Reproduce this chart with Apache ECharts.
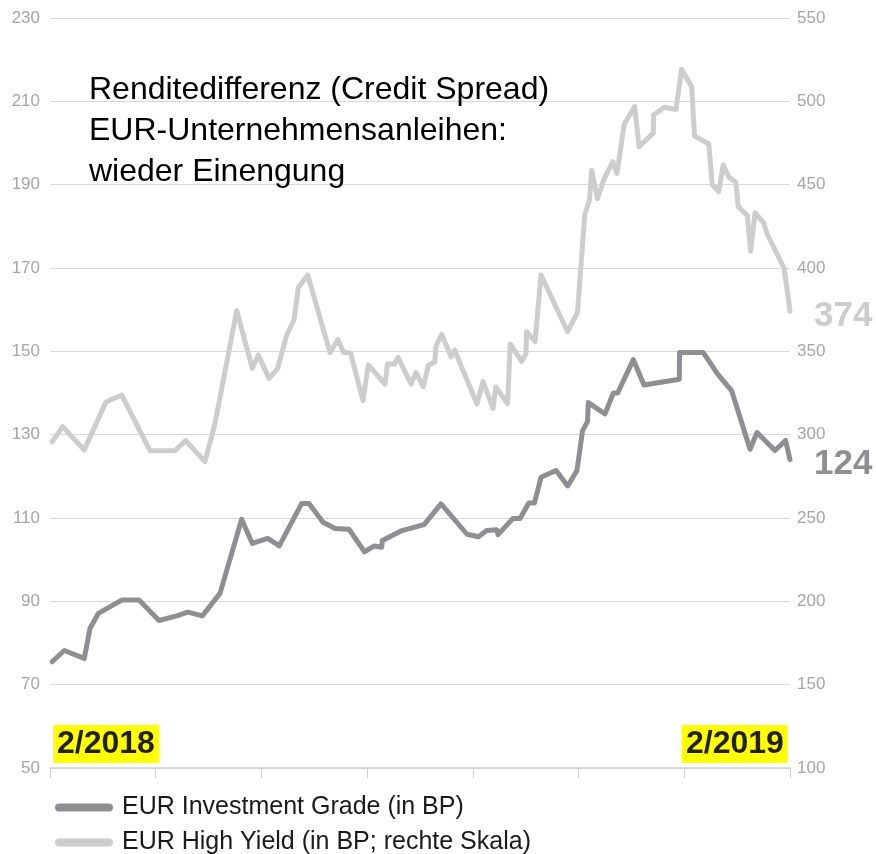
<!DOCTYPE html>
<html>
<head>
<meta charset="utf-8">
<script src="https://cdn.jsdelivr.net/npm/echarts@6/dist/echarts.min.js"></script>
<style>
html, body { margin: 0; padding: 0; background: #fff; }
#chart { width: 876px; height: 854px; }
</style>
</head>
<body>
<div id="chart"></div>
<script>
// x = Wochen seit 2/2018 (0..70)
var igWeeks = [0.2, 1.35, 3.24, 3.78, 4.57, 6.78, 8.42, 10.31, 11.99, 13.03, 14.41, 16.08, 18.13, 19.14, 20.59, 21.69,
    23.81, 24.5, 25.83, 26.96, 28.28, 29.75, 30.68, 31.38, 31.44, 33.2, 35.38, 36.99, 39.45, 40.52, 41.31, 42.26,
    42.38, 43.8, 44.46, 45.29, 45.83, 46.45, 47.87, 48.97, 49.85, 50.37, 50.85, 50.92, 52.5, 53.29, 53.7, 55.18,
    56.19, 59.53, 59.55, 61.8, 63.14, 64.49, 66.22, 66.88, 68.58, 69.58, 70];
var igValues = [75.5, 78.2, 76.3, 83.5, 87.1, 90.3, 90.3, 85.4, 86.5, 87.4, 86.5, 91.9, 109.7, 103.9, 105.1, 103.3,
    113.5, 113.5, 109, 107.5, 107.3, 101.9, 103.3, 103, 104.6, 106.9, 108.4, 113.4, 106.1, 105.5, 107, 107.2,
    106, 109.9, 109.9, 113.6, 113.6, 119.8, 121.4, 117.7, 121.4, 130.9, 133.2, 137.7, 135, 140, 140, 148,
    141.9, 143.3, 149.7, 149.7, 144.6, 140.5, 126.5, 130.5, 126.2, 128.6, 124];

var hyWeeks = [0.2, 1.2, 3.24, 5.27, 6.78, 9.46, 11.82, 12.84, 14.66, 15.61, 17.66, 19.14, 19.7, 20.72, 21.54, 22.39,
    23.08, 23.49, 24.38, 26.49, 27.24, 27.76, 28.43, 29.61, 30.11, 31.69, 31.93, 32.59, 32.92, 34.15, 34.62, 35.31,
    35.79, 36.4, 36.5, 37.05, 37.95, 38.27, 40.39, 40.96, 41.91, 42.17, 43.28, 43.54, 44.62, 45.03, 45.08, 45.88,
    46.45, 48.95, 49.9, 50.58, 51.03, 51.24, 51.79, 52.41, 53.24, 53.64, 54.32, 55.31, 55.72, 57.07, 57.1, 58.11,
    59.22, 59.74, 60.7, 60.97, 62.32, 62.64, 63.25, 63.69, 64.21, 64.88, 65.11, 65.96, 66.28, 66.69, 67.54, 67.8,
    69.45, 70];
var hyValues = [295.8, 304.8, 290.8, 319.4, 323.8, 290.4, 290.4, 296.4, 283.8, 306.8, 374.4, 339.8, 347.8, 333.8, 339.8, 359.8,
    368.8, 388.3, 395.8, 349.2, 357.1, 349.4, 349, 320.4, 341.8, 330.4, 342.4, 342.4, 346.4, 330.4, 337.2, 328.8,
    341.6, 343.6, 352.8, 360.1, 346.6, 350.8, 318.4, 331.8, 315.8, 328.6, 318.6, 354.4, 344, 348.8, 361.8, 355.8,
    395.8, 361.8, 373.3, 431.8, 440.8, 458.5, 441.6, 453.4, 463.8, 456.8, 486.4, 496.8, 472.8, 481, 491.8, 496.4,
    495.1, 519.2, 508.8, 479.2, 474.4, 450.1, 445.8, 461.8, 454.6, 451.5, 436.8, 431.5, 410.1, 433.2, 426.8, 421,
    399.8, 374];

var seriesNames = ['EUR Investment Grade (in BP)', 'EUR High Yield (in BP; rechte Skala)'];
var seriesColors = ['#8f8f93', '#cdcdcf'];
var titleText = 'Renditedifferenz (Credit Spread)\nEUR-Unternehmensanleihen:\nwieder Einengung';
var startLabel = '2/2018';
var endLabel = '2/2019';

function pairs(xs, ys) {
    var res = [];
    for (var i = 0; i < xs.length; i++) {
        res.push([xs[i], ys[i]]);
    }
    return res;
}

var font = '"Liberation Sans", Arial, Helvetica, sans-serif';
var pill = 'path://M4,0 L54,0 A4,4 0 0 1 54,8 L4,8 A4,4 0 0 1 4,0 Z';

var dateBox = function (text, left) {
    return {
        text: text,
        left: left,
        top: 725,
        backgroundColor: '#ffff00',
        padding: [3, 4, 3, 4],
        textStyle: {
            fontFamily: font,
            fontWeight: 'bold',
            fontSize: 32,
            lineHeight: 32,
            color: '#231f20'
        }
    };
};

var legendItem = function (name, top) {
    return {
        data: [name],
        orient: 'vertical',
        left: 55,
        top: top,
        itemWidth: 58,
        itemHeight: 9,
        icon: pill,
        padding: 0,
        textStyle: {
            fontFamily: font,
            fontSize: 25,
            color: '#1a1a1a',
            padding: [0, 0, 0, 4]
        }
    };
};

var endLabelStyle = function (color) {
    return {
        show: true,
        distance: 24,
        offset: [0, 5],
        formatter: function (p) { return p.value[1]; },
        fontFamily: font,
        fontWeight: 'bold',
        fontSize: 35,
        color: color
    };
};

var option = {
    animation: false,
    textStyle: { fontFamily: font },
    title: [
        {
            text: titleText,
            left: 84,
            top: 65,
            textStyle: {
                fontFamily: font,
                fontWeight: 'normal',
                fontSize: 32,
                lineHeight: 41,
                color: '#000'
            }
        },
        dateBox(startLabel, 53),
        dateBox(endLabel, 682)
    ],
    legend: [
        legendItem(seriesNames[0], 795),
        legendItem(seriesNames[1], 830)
    ],
    grid: {
        left: 50,
        right: 86,
        top: 18,
        bottom: 86,
        containLabel: false
    },
    xAxis: {
        type: 'value',
        min: 0,
        max: 70,
        interval: 10,
        axisLabel: { show: false },
        axisLine: { lineStyle: { color: '#cfcfcf', width: 1.5 } },
        axisTick: { show: true, length: 10, lineStyle: { color: '#cfcfcf', width: 1 } },
        splitLine: { show: false }
    },
    yAxis: [
        {
            type: 'value',
            min: 50,
            max: 230,
            interval: 20,
            axisLine: { show: false },
            axisTick: { show: false },
            axisLabel: { color: '#a6a6a6', fontSize: 17, margin: 10, fontFamily: font },
            splitLine: { lineStyle: { color: '#d9d9d9', width: 1 } }
        },
        {
            type: 'value',
            min: 100,
            max: 550,
            interval: 50,
            position: 'right',
            axisLine: { show: false },
            axisTick: { show: false },
            axisLabel: { color: '#a6a6a6', fontSize: 17, margin: 7, fontFamily: font },
            splitLine: { show: false }
        }
    ],
    series: [
        {
            name: seriesNames[0],
            type: 'line',
            yAxisIndex: 0,
            symbol: 'none',
            data: pairs(igWeeks, igValues),
            color: seriesColors[0],
            lineStyle: { width: 5, color: seriesColors[0], cap: 'round', join: 'round' },
            endLabel: endLabelStyle(seriesColors[0])
        },
        {
            name: seriesNames[1],
            type: 'line',
            yAxisIndex: 1,
            symbol: 'none',
            data: pairs(hyWeeks, hyValues),
            color: seriesColors[1],
            lineStyle: { width: 5, color: seriesColors[1], cap: 'round', join: 'round' },
            endLabel: endLabelStyle(seriesColors[1])
        }
    ]
};

var myChart = echarts.init(document.getElementById('chart'));
myChart.setOption(option);
</script>
</body>
</html>
